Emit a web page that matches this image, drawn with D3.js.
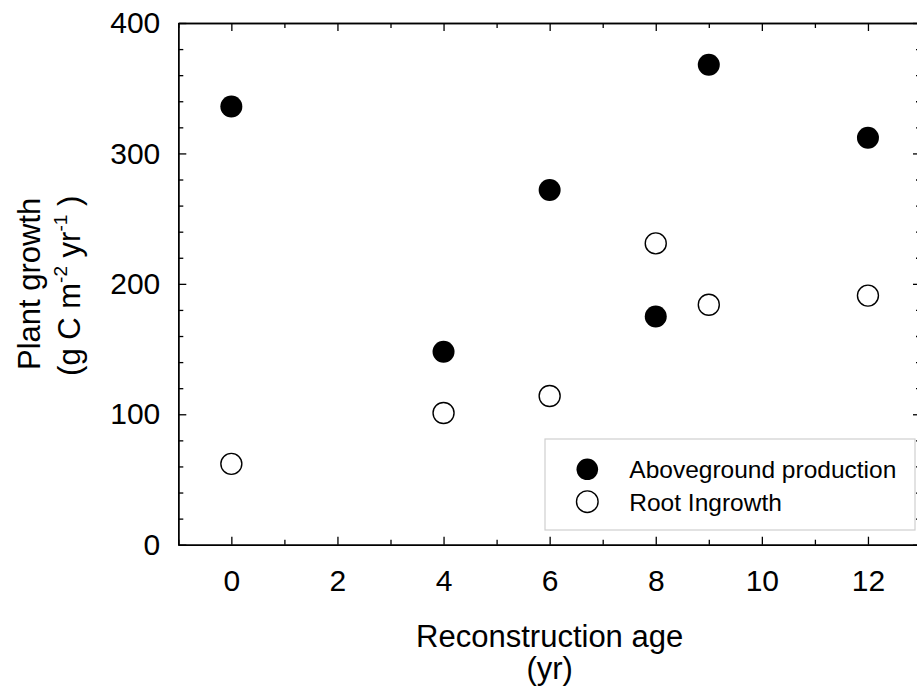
<!DOCTYPE html>
<html>
<head>
<meta charset="utf-8">
<script src="https://cdn.jsdelivr.net/npm/d3@7"></script>
<style>
  html, body { margin: 0; padding: 0; background: #fff; }
  svg { display: block; font-family: "Liberation Sans", Arial, Helvetica, sans-serif; }
</style>
</head>
<body>
<svg id="chart" width="917" height="698"></svg>
<script>
// ---- data ----
const ages = [0, 4, 6, 8, 9, 12];
const aboveground = [336, 148, 272, 175, 368, 312];
const rootIngrowth = [62, 101, 114, 231, 184, 191];
const seriesNames = ["Aboveground production", "Root Ingrowth"];
const xTickValues = [0, 2, 4, 6, 8, 10, 12];
const xMinorValues = [-1, 1, 3, 5, 7, 9, 11, 13];
const yTickValues = [0, 100, 200, 300, 400];
const yMinorValues = d3.range(0, 401, 20).filter(v => v % 100 !== 0);

const svg = d3.select("#chart");
const L = 178.3, T = 23, R = 921, B = 544.7;
const x = d3.scaleLinear().domain([-1, 13]).range([L, R]);
const y = d3.scaleLinear().domain([0, 400]).range([B, T]);

const tickFont = "30px";

function styleAxis(g) {
  g.select(".domain").attr("stroke", "#000").attr("stroke-width", 1.4);
  g.selectAll(".tick line").attr("stroke", "#000").attr("stroke-width", 1.3);
  g.selectAll(".tick text").attr("fill", "#000").style("font-size", tickFont)
    .style("font-family", '"Liberation Sans", Arial, Helvetica, sans-serif');
}

// minor ticks
svg.append("g").attr("transform", `translate(0,${B})`)
  .call(d3.axisBottom(x).tickValues(xMinorValues).tickSize(-5).tickFormat("").tickSizeOuter(0)).call(styleAxis);
svg.append("g").attr("transform", `translate(0,${T})`)
  .call(d3.axisTop(x).tickValues(xMinorValues).tickSize(-5).tickFormat("").tickSizeOuter(0)).call(styleAxis);
svg.append("g").attr("transform", `translate(${L},0)`)
  .call(d3.axisLeft(y).tickValues(yMinorValues).tickSize(-5).tickFormat("").tickSizeOuter(0)).call(styleAxis);
svg.append("g").attr("transform", `translate(${R},0)`)
  .call(d3.axisRight(y).tickValues(yMinorValues).tickSize(-5).tickFormat("").tickSizeOuter(0)).call(styleAxis);

// major ticks
svg.append("g").attr("transform", `translate(0,${B})`)
  .call(d3.axisBottom(x).tickValues(xTickValues).tickSize(-8).tickPadding(25).tickSizeOuter(0)).call(styleAxis);
svg.append("g").attr("transform", `translate(0,${T})`)
  .call(d3.axisTop(x).tickValues(xTickValues).tickSize(-8).tickFormat("").tickSizeOuter(0)).call(styleAxis);
svg.append("g").attr("transform", `translate(${L},0)`)
  .call(d3.axisLeft(y).tickValues(yTickValues).tickSize(-8).tickPadding(18).tickSizeOuter(0)).call(styleAxis);
svg.append("g").attr("transform", `translate(${R},0)`)
  .call(d3.axisRight(y).tickValues(yTickValues).tickSize(-8).tickFormat("").tickSizeOuter(0)).call(styleAxis);

// axis titles
const cx = (L + R) / 2, cy = (T + B) / 2;
svg.append("text").attr("x", cx).attr("y", 647).attr("text-anchor", "middle")
  .style("font-size", "31px").text("Reconstruction age");
svg.append("text").attr("x", cx).attr("y", 679).attr("text-anchor", "middle")
  .style("font-size", "31px").text("(yr)");

svg.append("text").attr("transform", `translate(39.5,${cy}) rotate(-90)`)
  .attr("text-anchor", "middle").style("font-size", "31px").text("Plant growth");
const t2 = svg.append("text").attr("transform", `translate(80,${cy + 2}) rotate(-90)`)
  .attr("text-anchor", "middle").style("font-size", "31px").style("white-space", "pre");
t2.append("tspan").text("(g C m");
t2.append("tspan").attr("dy", "-13").style("font-size", "19px").text("-2");
t2.append("tspan").attr("dy", "13").text("\u00a0yr");
t2.append("tspan").attr("dy", "-13").style("font-size", "19px").text("-1");
t2.append("tspan").attr("dy", "13").text("\u00a0)");

// points
const ptsA = ages.map((a, i) => ({ a, v: aboveground[i] }));
const ptsR = ages.map((a, i) => ({ a, v: rootIngrowth[i] }));
svg.append("g").selectAll("circle").data(ptsR).join("circle")
  .attr("cx", d => x(d.a)).attr("cy", d => y(d.v)).attr("r", 10.5)
  .attr("fill", "#fff").attr("stroke", "#000").attr("stroke-width", 1.4);
svg.append("g").selectAll("circle").data(ptsA).join("circle")
  .attr("cx", d => x(d.a)).attr("cy", d => y(d.v)).attr("r", 11)
  .attr("fill", "#000");

// legend
const lg = svg.append("g");
lg.append("rect").attr("x", 545).attr("y", 439).attr("width", 370).attr("height", 91)
  .attr("fill", "#fff").attr("stroke", "#cfcfcf").attr("stroke-width", 1.2);
const legendItems = [
  { name: seriesNames[0], fill: "#000" },
  { name: seriesNames[1], fill: "#fff" }
];
legendItems.forEach((it, i) => {
  const yy = 469.3 + i * 32.4;
  lg.append("circle").attr("cx", 587.3).attr("cy", yy).attr("r", 10.8)
    .attr("fill", it.fill).attr("stroke", "#000").attr("stroke-width", it.fill === "#000" ? 0 : 1.4);
  lg.append("text").attr("x", 629.3).attr("y", yy + 9).style("font-size", "24.5px").text(it.name);
});
</script>
</body>
</html>
